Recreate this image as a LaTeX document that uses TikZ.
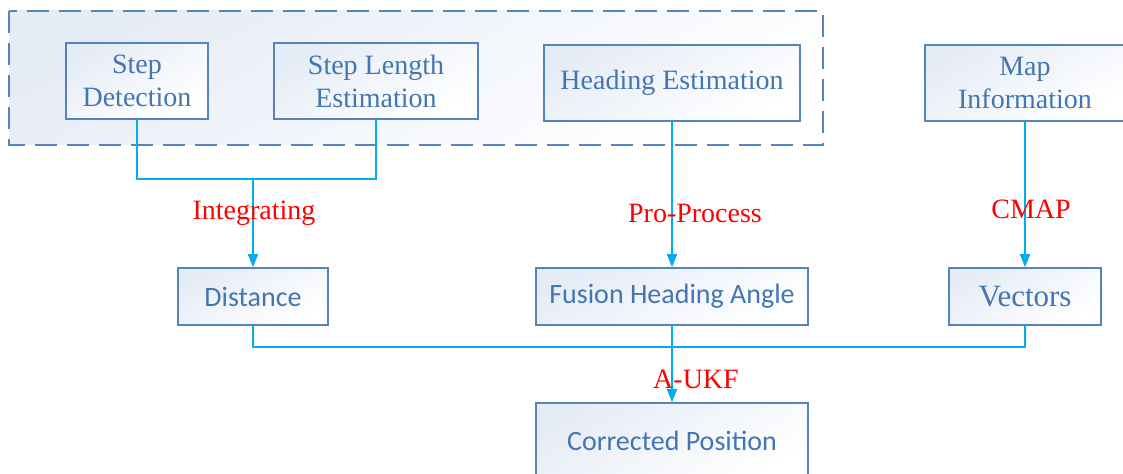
\documentclass[tikz,border=0pt]{standalone}
\usepackage{fontspec}
\setmainfont{Liberation Serif}
\newfontfamily\calibrifont{Carlito}
\usetikzlibrary{arrows.meta}
\definecolor{boxblue}{RGB}{84,132,188}
\definecolor{textblue}{RGB}{66,118,178}
\definecolor{conncyan}{RGB}{0,174,239}
\definecolor{shadeblue}{RGB}{230,236,246}
\tikzset{
  box/.style={draw=boxblue, line width=0.8pt, top color=shadeblue, bottom color=white, shading angle=30,
    text=textblue, align=center, inner sep=0pt, font=\fontsize{14}{16.5}\selectfont},
  cbox/.style={box, font=\calibrifont\fontsize{14}{16.5}\selectfont},
  conn/.style={draw=conncyan, line width=0.75pt},
  arr/.style={conn, -{Triangle[length=6.5pt,width=5pt]}},
  lbl/.style={text=red, font=\fontsize{14}{16.5}\selectfont, inner sep=0pt}
}
\begin{document}
\begin{tikzpicture}[x=0.5pt,y=-0.5pt]
\useasboundingbox (0,0) rectangle (1123,474);
\clip (0,0) rectangle (1123,474);
% dashed container
\shade[top color=shadeblue, bottom color=white, shading angle=30] (9,11) rectangle (823,145);
\draw[boxblue, line width=0.8pt, dash pattern=on 11pt off 5pt] (9,11) rectangle (823,145);
% top boxes
\node[box, minimum width=71pt, minimum height=38pt] (sd) at (137,81) {Step\\Detection};
\node[box, minimum width=102pt, minimum height=38pt] (sle) at (376,81) {Step Length\\Estimation};
\node[box, minimum width=128pt, minimum height=38pt] (he) at (672,83) {\raisebox{-1pt}{Heading Estimation}};
\node[box, minimum width=100pt, minimum height=38pt] (mi) at (1025,83) {Map\\Information};
% middle boxes
\node[cbox, minimum width=75pt, minimum height=28.5pt] (dist) at (253,296.5) {\raisebox{-1pt}{Distance}};
\node[cbox, minimum width=136pt, minimum height=28.5pt] (fha) at (672,296.5) {\raisebox{-1.5pt}{Fusion Heading Angle}};
\node[box, minimum width=76pt, minimum height=28.5pt, font=\fontsize{15.5}{18}\selectfont] (vec) at (1025,296.5) {\raisebox{-0.5pt}{Vectors}};
% bottom box
\node[cbox, minimum width=136pt, minimum height=38pt] (cp) at (672,441) {Corrected Position};
% junctions
\coordinate (j1) at (253,179);
\coordinate (j2) at (253,347);
% connectors
\draw[conn] (sd.south) -- (sd.south |- j1) -- (sle.south |- j1) -- (sle.south);
\draw[arr] (j1) -- (dist.north);
\draw[arr] (he.south) -- (fha.north);
\draw[arr] (mi.south) -- (vec.north);
\draw[conn] (dist.south) -- (j2) -- (vec.south |- j2) -- (vec.south);
\draw[arr] (fha.south) -- (cp.north);
% labels
\node[lbl] (l1) at (254,213) {Integrating};
\node[lbl] (l2) at (695,213) {Pro-Process};
\node[lbl] (l3) at (1031,209) {CMAP};
\node[lbl] (l4) at (696,379) {A-UKF};
\end{tikzpicture}
\end{document}
